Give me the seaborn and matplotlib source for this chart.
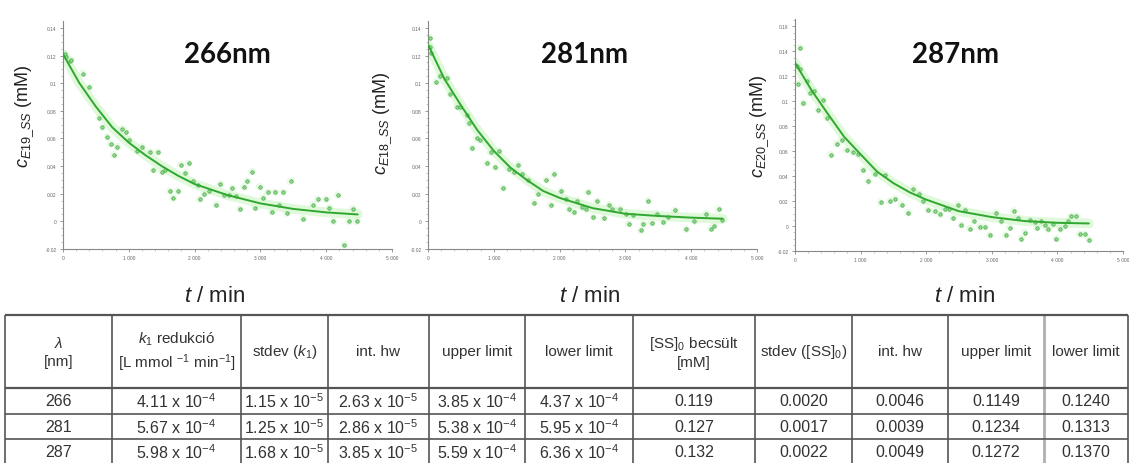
import numpy as np
import pandas as pd
import matplotlib
matplotlib.use("Agg")
import matplotlib.pyplot as plt
import seaborn as sns

# ---------------------------------------------------------------- data
# measured concentrations (mM) versus time (min)
t266 = [25, 50, 100, 120, 300, 400, 550, 600, 675, 725, 775, 825, 900, 950,
        1000, 1125, 1200, 1325, 1375, 1440, 1500, 1550, 1625, 1675, 1750, 1790,
        1860, 1910, 1975, 2050, 2075, 2150, 2225, 2325, 2390, 2450, 2525, 2575,
        2625, 2690, 2750, 2800, 2875, 2925, 2990, 3040, 3110, 3175, 3225, 3290,
        3350, 3400, 3460, 3650, 3800, 3875, 4000, 4050, 4110, 4175, 4275, 4350,
        4410, 4465]
c266 = [0.121, 0.119, 0.116, 0.117, 0.107, 0.097, 0.075, 0.068, 0.061, 0.056,
        0.048, 0.054, 0.067, 0.065, 0.059, 0.051, 0.054, 0.050, 0.037, 0.050,
        0.036, 0.037, 0.022, 0.017, 0.022, 0.041, 0.035, 0.042, 0.029, 0.026,
        0.016, 0.020, 0.022, 0.012, 0.027, 0.019, 0.019, 0.024, 0.018, 0.009,
        0.025, 0.029, 0.036, 0.010, 0.025, 0.017, 0.021, 0.007, 0.021, 0.012,
        0.021, 0.006, 0.029, 0.002, 0.012, 0.016, 0.016, 0.010, 0.000, 0.019,
        -0.017, 0.000, 0.009, 0.000]

t281 = [25, 25, 50, 125, 185, 290, 340, 440, 490, 595, 620, 670, 745, 795, 900,
        950, 1025, 1075, 1140, 1225, 1310, 1375, 1435, 1515, 1615, 1675, 1800,
        1865, 1915, 2025, 2100, 2150, 2215, 2265, 2335, 2400, 2435, 2515, 2575,
        2675, 2750, 2800, 2915, 3015, 3050, 3115, 3235, 3275, 3350, 3400, 3475,
        3575, 3650, 3750, 3925, 4050, 4225, 4300, 4350, 4415, 4465]
c281 = [0.133, 0.126, 0.122, 0.101, 0.105, 0.104, 0.092, 0.083, 0.083, 0.077,
        0.071, 0.053, 0.060, 0.059, 0.042, 0.050, 0.039, 0.051, 0.024, 0.038,
        0.036, 0.041, 0.034, 0.030, 0.0135, 0.020, 0.030, 0.0116, 0.034, 0.022,
        0.016, 0.0087, 0.0067, 0.015, 0.0104, 0.0087, 0.021, 0.003, 0.0145,
        0.0024, 0.012, 0.009, 0.009, 0.0055, -0.0017, 0.0043, -0.0065, -0.0017,
        0.015, -0.001, 0.0055, -0.0005, 0.003, 0.008, -0.0058, 0.000, 0.0055,
        -0.0053, -0.003, 0.0087, 0.0007]

t287 = [25, 50, 76, 76, 127, 178, 228, 294, 355, 431, 492, 543, 635, 711, 787,
        888, 964, 1040, 1117, 1218, 1305, 1370, 1447, 1523, 1624, 1726, 1802,
        1893, 1944, 2030, 2132, 2208, 2284, 2350, 2411, 2487, 2538, 2589, 2665,
        2726, 2817, 2893, 2970, 3061, 3147, 3213, 3274, 3335, 3401, 3452, 3503,
        3579, 3655, 3690, 3756, 3807, 3858, 3934, 3985, 4046, 4112, 4162, 4213,
        4289, 4340, 4416, 4482]
c287 = [0.128, 0.114, 0.143, 0.126, 0.0985, 0.1165, 0.107, 0.1086, 0.093,
        0.1007, 0.087, 0.057, 0.066, 0.069, 0.061, 0.059, 0.058, 0.045, 0.036,
        0.042, 0.019, 0.041, 0.020, 0.022, 0.017, 0.0106, 0.030, 0.026, 0.020,
        0.013, 0.012, 0.0093, 0.0138, 0.0138, 0.0066, 0.017, 0.0005, 0.0127,
        -0.002, 0.004, -0.0005, -0.0005, -0.0074, 0.0106, 0.004, -0.0074,
        -0.0013, 0.012, 0.0066, -0.010, -0.0053, 0.0048, 0.003, -0.0013, 0.004,
        0.0005, -0.0026, 0.0013, -0.010, -0.0026, 0.000, 0.004, 0.008, 0.008,
        -0.0066, -0.0066, -0.011]

# fitted curves
t_fit = [0, 250, 500, 750, 1000, 1250, 1500, 1750, 2000, 2500, 3000, 3500, 4000, 4480]
fit266 = [0.121, 0.100, 0.083, 0.068, 0.057, 0.048, 0.040, 0.033, 0.027, 0.019,
          0.013, 0.009, 0.0065, 0.005]
fit281 = [0.128, 0.103, 0.084, 0.066, 0.051, 0.039, 0.030, 0.022, 0.017, 0.0096,
          0.0055, 0.0039, 0.0027, 0.0019]
fit287 = [0.131, 0.109, 0.090, 0.0715, 0.0575, 0.0437, 0.0344, 0.027, 0.0212,
          0.0119, 0.0072, 0.004, 0.0026, 0.0021]

panel_titles = ["266nm", "281nm", "287nm"]
ylabels = [r"$c_{E19\_SS}$ (mM)", r"$c_{E18\_SS}$ (mM)", r"$c_{E20\_SS}$ (mM)"]
xlabel = r"$t$ / min"

xticks = [0, 1000, 2000, 3000, 4000, 5000]
xticklabels = ["0", "1 000", "2 000", "3 000", "4 000", "5 000"]
yticks_a = [-0.02, 0, 0.02, 0.04, 0.06, 0.08, 0.1, 0.12, 0.14]
yticklabels_a = ["-0.02", "0", "0.02", "0.04", "0.06", "0.08", "0.1", "0.12", "0.14"]
yticks_b = [-0.02, 0, 0.02, 0.04, 0.06, 0.08, 0.1, 0.12, 0.14, 0.16]
yticklabels_b = ["-0.02", "0", "0.02", "0.04", "0.06", "0.08", "0.1", "0.12", "0.14", "0.16"]

# results table
col_headers = [r"$\lambda$" + "\n[nm]",
               r"$k_1$ redukció" + "\n" + r"[L mmol $^{-1}$ min$^{-1}$]",
               r"stdev ($k_1$)", "int. hw", "upper limit", "lower limit",
               r"[SS]$_0$ becsült" + "\n[mM]", r"stdev ([SS]$_0$)",
               "int. hw", "upper limit", "lower limit"]
lam = ["266", "281", "287"]
k1 = [r"4.11 x 10$^{-4}$", r"5.67 x 10$^{-4}$", r"5.98 x 10$^{-4}$"]
k1_sd = [r"1.15 x 10$^{-5}$", r"1.25 x 10$^{-5}$", r"1.68 x 10$^{-5}$"]
k1_hw = [r"2.63 x 10$^{-5}$", r"2.86 x 10$^{-5}$", r"3.85 x 10$^{-5}$"]
k1_up = [r"3.85 x 10$^{-4}$", r"5.38 x 10$^{-4}$", r"5.59 x 10$^{-4}$"]
k1_lo = [r"4.37 x 10$^{-4}$", r"5.95 x 10$^{-4}$", r"6.36 x 10$^{-4}$"]
ss0 = ["0.119", "0.127", "0.132"]
ss0_sd = ["0.0020", "0.0017", "0.0022"]
ss0_hw = ["0.0046", "0.0039", "0.0049"]
ss0_up = ["0.1149", "0.1234", "0.1272"]
ss0_lo = ["0.1240", "0.1313", "0.1370"]

# ---------------------------------------------------------------- style
sns.set_theme(style="ticks")
plt.rcParams["font.family"] = ["Liberation Sans", "DejaVu Sans"]
plt.rcParams["mathtext.fontset"] = "custom"
plt.rcParams["mathtext.rm"] = "Liberation Sans"
plt.rcParams["mathtext.it"] = "Liberation Sans:italic"
plt.rcParams["mathtext.bf"] = "Liberation Sans:bold"

W, H = 1129, 464
fig = plt.figure(figsize=(W / 100, H / 100), dpi=100)
fig.patch.set_facecolor("white")


def box(left, right, top, bottom):
    return [left / W, 1 - bottom / H, (right - left) / W, (bottom - top) / H]


panels = [
    dict(t=t266, c=c266, fit=fit266, pos=box(63, 392, 22, 250),
         ylim=(-0.02, 0.145), yt=yticks_a, ytl=yticklabels_a, title_xy=(0.50, 0.82)),
    dict(t=t281, c=c281, fit=fit281, pos=box(428, 757, 22, 250),
         ylim=(-0.02, 0.145), yt=yticks_a, ytl=yticklabels_a, title_xy=(0.477, 0.82)),
    dict(t=t287, c=c287, fit=fit287, pos=box(795, 1123, 20, 252),
         ylim=(-0.02, 0.166), yt=yticks_b, ytl=yticklabels_b, title_xy=(0.488, 0.815)),
]

pt_face = "#8ce38a"
pt_edge = "#4d9e4d"
glow = "#d3f7cd"
line_col = "#30a830"

for p, title in zip(panels, panel_titles):
    ax = fig.add_axes(p["pos"])
    pts = pd.DataFrame({"t": p["t"], "c": p["c"]})
    fit = pd.DataFrame({"t": t_fit, "c": p["fit"]})
    # soft halo behind points and curve
    sns.scatterplot(data=pts, x="t", y="c", ax=ax, s=30, color=glow,
                    edgecolor="none", alpha=0.5, zorder=1)
    sns.lineplot(data=fit, x="t", y="c", ax=ax, color=glow, lw=7, alpha=0.7,
                 zorder=2)
    sns.scatterplot(data=pts, x="t", y="c", ax=ax, s=6, color=pt_face,
                    edgecolor=pt_edge, linewidth=0.5, zorder=3)
    sns.lineplot(data=fit, x="t", y="c", ax=ax, color=line_col, lw=1.4, zorder=4)

    ax.set_xlim(0, 5000)
    ax.set_ylim(*p["ylim"])
    ax.set_xticks(xticks, labels=xticklabels)
    ax.set_yticks(p["yt"], labels=p["ytl"])
    ax.set_xticks(np.arange(0, 5001, 200), minor=True)
    ax.set_yticks(np.arange(p["yt"][0], p["ylim"][1], 0.005), minor=True)
    ax.tick_params(axis="both", which="major", labelsize=3.5, labelcolor="#666666",
                   length=2.5, width=0.6, color="#888888", pad=2)
    ax.tick_params(axis="both", which="minor", length=1.3, width=0.4, color="#999999")
    for side in ("top", "right"):
        ax.spines[side].set_visible(False)
    for side in ("left", "bottom"):
        ax.spines[side].set_color("#888888")
        ax.spines[side].set_linewidth(0.8)
    ax.set_xlabel("")
    ax.set_ylabel("")
    ax.text(*p["title_xy"], title, transform=ax.transAxes, ha="center", va="baseline",
            fontsize=20, fontweight="bold", family="Lato", color="#111111")

# axis titles
for xc, yc, lab in zip([25, 383, 760], [116, 123, 126], ylabels):
    fig.text(xc / W, 1 - yc / H, lab, rotation=90, ha="center", va="center",
             fontsize=13, color="#222222")
for xc in [215, 590, 965]:
    fig.text(xc / W, 1 - 297 / H, xlabel, ha="center", va="center",
             fontsize=16, color="#222222")

# ---------------------------------------------------------------- table
tab = fig.add_axes([0, 0, 1, 1], zorder=-1)
tab.set_xlim(0, W)
tab.set_ylim(H, 0)
tab.axis("off")

col_edges = [5, 112, 241, 328, 429, 525, 633, 755, 852, 948, 1044, 1128]
row_edges = [316, 389, 415, 440, 466]

for x in col_edges:
    shade = "#b0b0b0" if x == 1044 else "#555555"
    lw = 2.0 if x == 1044 else 1.2
    tab.plot([x, x], [row_edges[0], row_edges[-1]], color=shade, lw=lw,
             solid_capstyle="butt")
for y in row_edges:
    tab.plot([col_edges[0], col_edges[-1]], [y, y], color="#555555",
             lw=1.6 if y in (316, 389) else 1.2, solid_capstyle="butt")

txt_col = "#333333"
centers = [(a + b) / 2 for a, b in zip(col_edges[:-1], col_edges[1:])]
for xc, head in zip(centers, col_headers):
    tab.text(xc, (row_edges[0] + row_edges[1]) / 2, head, ha="center", va="center",
             fontsize=11, color=txt_col, linespacing=1.3)

rows = list(zip(lam, k1, k1_sd, k1_hw, k1_up, k1_lo, ss0, ss0_sd, ss0_hw,
                ss0_up, ss0_lo))
for i, row in enumerate(rows):
    yc = (row_edges[i + 1] + row_edges[i + 2]) / 2
    for xc, val in zip(centers, row):
        tab.text(xc, yc, val, ha="center", va="center", fontsize=11.5, color=txt_col)

fig.savefig("out.png", dpi=100, facecolor="white")
